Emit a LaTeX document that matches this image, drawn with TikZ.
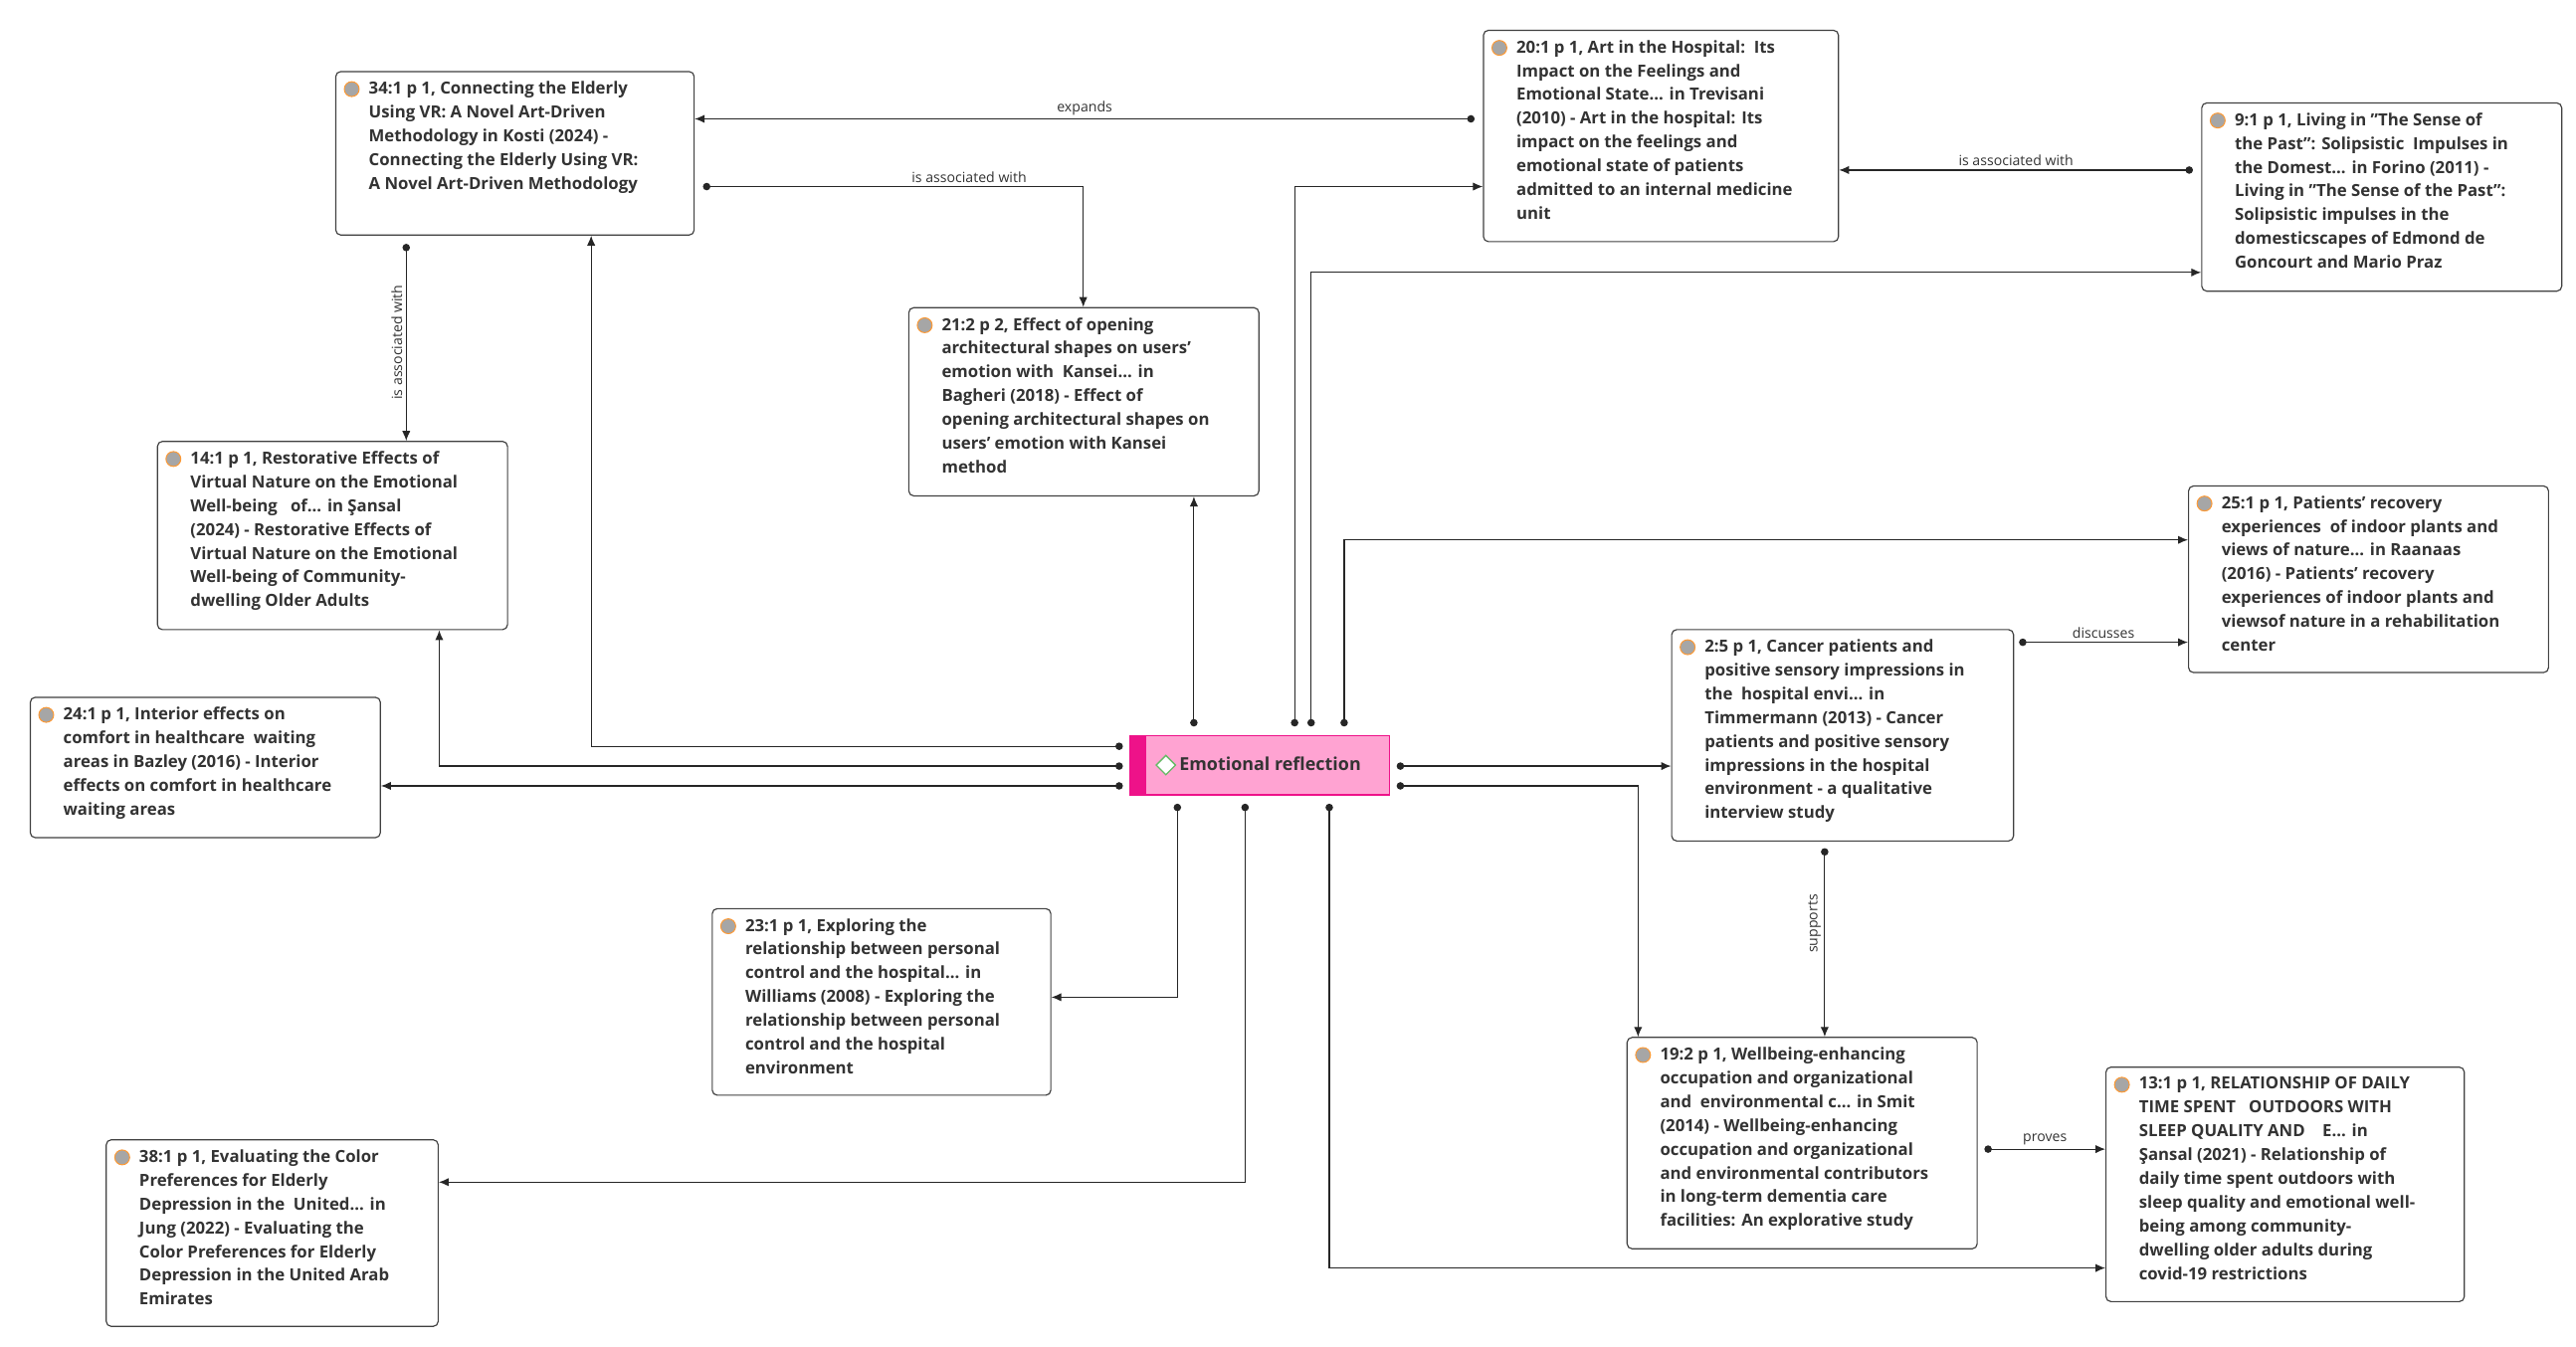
\documentclass[tikz,border=0pt]{standalone}
\usepackage{fontspec}
\setmainfont{Open Sans}
\usetikzlibrary{arrows.meta,shapes.geometric}
\definecolor{txt}{HTML}{333333}
\definecolor{pinkf}{HTML}{FFA3D2}
\definecolor{pinkd}{HTML}{EE1289}
\newcommand{\bx}[7]{%
\node[box,anchor=north west,minimum width=#4pt,minimum height=#5pt] (#1) at (#2,#3)
{\hspace*{19pt}\parbox[t][#5pt][t]{\dimexpr#4pt-21pt\relax}{\vspace*{6pt}\raggedright #6}};
\node[icon] at ([xshift=10pt,yshift=-11pt]#1.north west) {};}
\begin{document}
\begin{tikzpicture}[x=1pt,y=-1pt,
 box/.style={draw=black!75,line width=0.7pt,rounded corners=3pt,inner sep=0pt,fill=white,
   font=\fontsize{10.1}{14.4}\selectfont\bfseries,text=txt},
 icon/.style={circle,draw=orange!80,line width=0.6pt,fill=black!35,minimum size=9pt,inner sep=0pt},
 con/.style={draw=black!85,line width=0.7pt,{Circle[length=4.5pt]}-{Latex[length=6pt,width=5pt]}},
 lab/.style={font=\fontsize{8.5}{9}\selectfont,text=txt,inner sep=2pt}]
\useasboundingbox (0,0) rectangle (1560,815.7);
\fill[white] (0,0) rectangle (1560,815.7);
\bx{B34}{203}{43}{217}{99}{34:1 p 1, Connecting the Elderly\\Using VR: A Novel Art-Driven\\Methodology in Kosti (2024) -\\Connecting the Elderly Using VR:\\A Novel Art-Driven Methodology}{}
\bx{B20}{898}{18}{215}{128}{20:1 p 1, Art in the Hospital:\ \ Its\\Impact on the Feelings and\\Emotional State... in Trevisani\\(2010) - Art in the hospital: Its\\impact on the feelings and\\emotional state of patients\\admitted to an internal medicine\\unit}{}
\bx{B9}{1333}{62}{218}{114}{9:1 p 1, Living in "The Sense of\\the Past": Solipsistic\ \ Impulses in\\the Domest... in Forino (2011) -\\Living in "The Sense of the Past":\\Solipsistic impulses in the\\domesticscapes of Edmond de\\Goncourt and Mario Praz}{}
\bx{B21}{550}{186}{212}{114}{21:2 p 2, Effect of opening\\architectural shapes on users’\\emotion with\ \ Kansei... in\\Bagheri (2018) - Effect of\\opening architectural shapes on\\users’ emotion with Kansei\\method}{}
\bx{B14}{95}{267}{212}{114}{14:1 p 1, Restorative Effects of\\Virtual Nature on the Emotional\\Well-being\ \ \ of... in Şansal\\(2024) - Restorative Effects of\\Virtual Nature on the Emotional\\Well-being of Community-\\dwelling Older Adults}{}
\bx{B25}{1325}{294}{218}{113}{25:1 p 1, Patients’ recovery\\experiences\ \ of indoor plants and\\views of nature... in Raanaas\\(2016) - Patients’ recovery\\experiences of indoor plants and\\viewsof nature in a rehabilitation\\center}{}
\bx{B24}{18}{422}{212}{85}{24:1 p 1, Interior effects on\\comfort in healthcare\ \ waiting\\areas in Bazley (2016) - Interior\\effects on comfort in healthcare\\waiting areas}{}
\bx{B2}{1012}{381}{207}{128}{2:5 p 1, Cancer patients and\\positive sensory impressions in\\the\ \ hospital envi... in\\Timmermann (2013) - Cancer\\patients and positive sensory\\impressions in the hospital\\environment - a qualitative\\interview study}{}
\bx{B23}{431}{550}{205}{113}{23:1 p 1, Exploring the\\relationship between personal\\control and the hospital... in\\Williams (2008) - Exploring the\\relationship between personal\\control and the hospital\\environment}{}
\bx{B19}{985}{628}{212}{128}{19:2 p 1, Wellbeing-enhancing\\occupation and organizational\\and\ \ environmental c... in Smit\\(2014) - Wellbeing-enhancing\\occupation and organizational\\and environmental contributors\\in long-term dementia care\\facilities: An explorative study}{}
\bx{B13}{1275}{646}{217}{142}{13:1 p 1, RELATIONSHIP OF DAILY\\TIME SPENT\ \ \ OUTDOORS WITH\\SLEEP QUALITY AND\ \ \ \ E... in\\Şansal (2021) - Relationship of\\daily time spent outdoors with\\sleep quality and emotional well-\\being among community-\\dwelling older adults during\\covid-19 restrictions}{}
\bx{B38}{64}{690}{201}{113}{38:1 p 1, Evaluating the Color\\Preferences for Elderly\\Depression in the\ \ United... in\\Jung (2022) - Evaluating the\\Color Preferences for Elderly\\Depression in the United Arab\\Emirates}{}
% center
\node[draw=pinkd,fill=pinkf,line width=0.8pt,anchor=north west,minimum width=157pt,minimum height=36pt,inner sep=0pt] (E) at (684,445) {};
\fill[pinkd] (E.north west) rectangle ([xshift=10pt]E.south west);
\node[diamond,draw=green!55!black!60,fill=white,line width=0.8pt,minimum size=12pt,inner sep=0pt] (Ed) at ([xshift=22pt]E.west) {};
\node[anchor=west,inner sep=0pt,font=\fontsize{10.8}{12}\selectfont\bfseries,text=txt] (Et) at ([xshift=30pt,yshift=1pt]E.west) {Emotional reflection};
% ports
\coordinate (Pl1) at ([xshift=-4pt,yshift=-7pt]E.north west);
\coordinate (Pl2) at ([xshift=-4pt,yshift=-19pt]E.north west);
\coordinate (Pl3) at ([xshift=-4pt,yshift=-31pt]E.north west);
\coordinate (Pr1) at ([xshift=4pt,yshift=-19pt]E.north east);
\coordinate (Pr2) at ([xshift=4pt,yshift=-31pt]E.north east);
\coordinate (Pt1) at ([xshift=39pt,yshift=5pt]E.north west);
\coordinate (Pt2) at ([xshift=100pt,yshift=5pt]E.north west);
\coordinate (Pt3) at ([xshift=110pt,yshift=5pt]E.north west);
\coordinate (Pt4) at ([xshift=130pt,yshift=5pt]E.north west);
\coordinate (Pb1) at ([xshift=29pt,yshift=-5pt]E.south west);
\coordinate (Pb2) at ([xshift=70pt,yshift=-5pt]E.south west);
\coordinate (Pb3) at ([xshift=121pt,yshift=-5pt]E.south west);
\draw[con] (Pl1) -| ([xshift=155pt]B34.south west);
\draw[con] (Pl2) -| ([xshift=171pt]B14.south west);
\draw[con] (Pl3) -- (Pl3 -| B24.east);
\draw[con] (Pt1) -- (Pt1 |- B21.south);
\draw[con] (Pt2) |- ([yshift=-95pt]B20.north west);
\draw[con] (Pt3) |- ([yshift=-103pt]B9.north west);
\draw[con] (Pt4) |- ([yshift=-33pt]B25.north west);
\draw[con] (Pr1) -- (Pr1 -| B2.west);
\draw[con] (Pr2) -| ([xshift=7pt]B19.north west);
\draw[con] (Pb1) |- ([yshift=-54pt]B23.north east);
\draw[con] (Pb2) |- ([yshift=-26pt]B38.north east);
\draw[con] (Pb3) |- ([yshift=-122pt]B13.north west);
% labelled links
\coordinate (S1) at ([xshift=-5pt,yshift=-54pt]B20.north west);
\draw[con] (S1) -- node[lab,above] {expands} (S1 -| B34.east);
\coordinate (S2) at ([xshift=5pt,yshift=-70pt]B34.north east);
\draw[con] (S2) -| node[lab,above,pos=0.35] {is associated with} ([xshift=106pt]B21.north west);
\coordinate (S3) at ([xshift=-5pt,yshift=-41pt]B9.north west);
\draw[con] (S3) -- node[lab,above] {is associated with} (S3 -| B20.east);
\coordinate (S4) at ([xshift=43pt,yshift=-5pt]B34.south west);
\draw[con] (S4) -- node[lab,rotate=90,above] {is associated with} (S4 |- B14.north);
\coordinate (S5) at ([xshift=3pt,yshift=-8pt]B2.north east);
\draw[con] (S5) -- node[lab,above] {discusses} (S5 -| B25.west);
\coordinate (S6) at ([xshift=93pt,yshift=-4pt]B2.south west);
\draw[con] (S6) -- node[lab,rotate=90,above,pos=0.4] {supports} (S6 |- B19.north);
\coordinate (S7) at ([xshift=4pt,yshift=-68pt]B19.north east);
\draw[con] (S7) -- node[lab,above] {proves} (S7 -| B13.west);
\end{tikzpicture}
\end{document}
